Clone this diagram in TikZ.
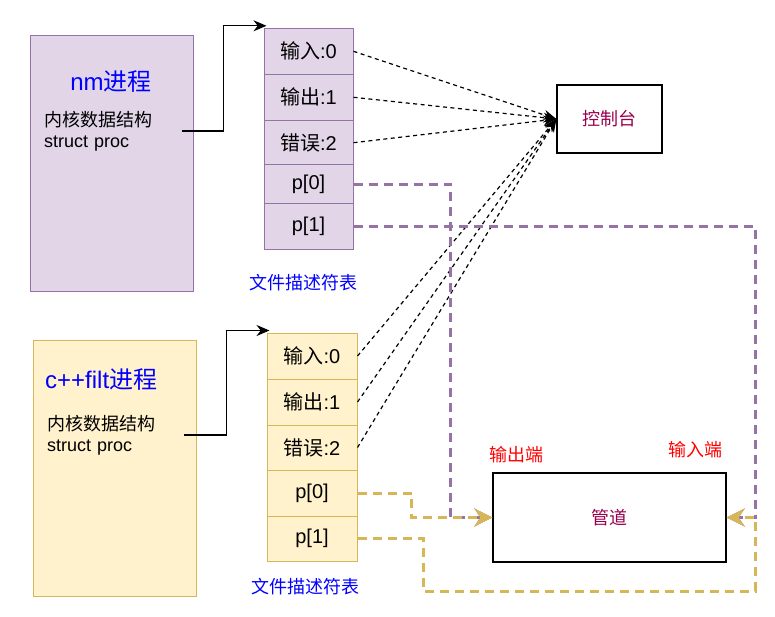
\documentclass[tikz,border=0pt]{standalone}
\usepackage{fontspec}
\setmainfont{Liberation Sans}
\newfontfamily\cjk{Noto Sans CJK SC}
\usetikzlibrary{arrows.meta,positioning}

\definecolor{nmfill}{HTML}{E1D5E7}
\definecolor{nmline}{HTML}{9673A6}
\definecolor{cffill}{HTML}{FFF2CC}
\definecolor{cfline}{HTML}{D6B656}
\definecolor{boxtext}{RGB}{153,0,77}

\tikzset{
  procbox/.style={line width=1pt, minimum width=163pt, minimum height=255pt, inner sep=0pt},
  proctitle/.style={text=blue, font=\fontsize{24}{28}\selectfont, inner sep=0pt},
  proctext/.style={font=\fontsize{18}{21}\selectfont, align=left, text width=138pt, inner sep=0pt},
  fdrow/.style={line width=1pt, inner sep=0pt, font=\fontsize{20}{24}\selectfont},
  nmrow/.style={fdrow, draw=nmline, fill=nmfill, minimum width=89pt},
  cfrow/.style={fdrow, draw=cfline, fill=cffill, minimum width=90pt, minimum height=46pt},
  fdlabel/.style={text=blue, font=\fontsize{18}{21}\selectfont\cjk},
  endlabel/.style={text=red, font=\fontsize{18}{21}\selectfont\cjk},
  plainbox/.style={draw, line width=1.3pt, text=boxtext, font=\fontsize{18}{21}\selectfont\cjk},
  ptr/.style={line width=1.3pt, -{Stealth[length=13pt,width=11pt]}},
  toconsole/.style={line width=1.2pt, dash pattern=on 4pt off 3.5pt, -{Stealth[length=13pt,width=10pt]}},
  pipeline/.style={line width=3pt, dash pattern=on 9pt off 6pt, -{Stealth[length=18pt,width=18pt,inset=6pt]}},
}

\begin{document}
\begin{tikzpicture}[x=1pt,y=-1pt]
  \useasboundingbox (0,0) rectangle (775,617);

  % nm process
  \node[procbox, draw=nmline, fill=nmfill] (nm) at (111.5,163.5) {};
  \node[proctitle] (nmtitle) at (111,82) {nm{\cjk 进程}};
  \node[proctext, anchor=west] (nmtext) at (44,131) {{\cjk 内核数据结构}\\struct proc};

  \node[nmrow, minimum height=46pt] (nm0) at (308.5,51.3) {{\cjk 输入}:0};
  \node[nmrow, minimum height=46pt] (nm1) at (308.5,97.3) {{\cjk 输出}:1};
  \node[nmrow, minimum height=44.7pt] (nm2) at (308.5,142.7) {{\cjk 错误}:2};
  \node[nmrow, minimum height=39pt] (nmp0) at (308.5,184.5) {p[0]};
  \node[nmrow, minimum height=45.5pt] (nmp1) at (308.5,226.7) {p[1]};
  \node[fdlabel] (nmfd) at (303,283) {文件描述符表};

  % c++filt process
  \node[procbox, draw=cfline, fill=cffill, minimum height=256pt] (cf) at (114.5,468) {};
  \node[proctitle, anchor=west] (cftitle) at (45,380) {c++filt{\cjk 进程}};
  \node[proctext, anchor=west, text width=137pt] (cftext) at (47,435) {{\cjk 内核数据结构}\\struct proc};

  \node[cfrow] (cf0) at (312,356) {{\cjk 输入}:0};
  \node[cfrow] (cf1) at (312,402) {{\cjk 输出}:1};
  \node[cfrow, minimum height=45pt] (cf2) at (312,447.5) {{\cjk 错误}:2};
  \node[cfrow] (cfp0) at (312,493) {p[0]};
  \node[cfrow, minimum height=45pt] (cfp1) at (312,538.5) {p[1]};
  \node[fdlabel] (cffd) at (305,587) {文件描述符表};

  % console and pipe
  \node[plainbox, minimum width=105pt, minimum height=68pt] (con) at (609.5,119) {控制台};
  \node[plainbox, minimum width=233pt, minimum height=89pt] (pipe) at (609.5,517.5) {管道};
  \node[endlabel] (outend) at (516,455) {输出端};
  \node[endlabel] (inend) at (695,450) {输入端};

  % process -> fd table
  \coordinate (nmtip) at ([shift={(3,-2)}]nm0.north west);
  \coordinate (cftip) at ([shift={(3,-2)}]cf0.north west);
  \draw[ptr] (nmtext.east) -- ++(41,0) |- (nmtip);
  \draw[ptr] (cftext.east) -- ++(42,0) |- (cftip);

  % std fds -> console
  \foreach \r in {nm0,nm1,nm2,cf0,cf1,cf2}
    \draw[toconsole] (\r.east) -- (con.west);

  % pipe ends
  \coordinate (loop) at (755,591);
  \draw[pipeline, nmline] (nmp0.east) -- ++(97,0) |- (pipe.west);
  \draw[pipeline, nmline] (nmp1.east) -- ++(402,0) |- (pipe.east);
  \draw[pipeline, cfline] (cfp0.east) -- ++(54,0) |- (pipe.west);
  \draw[pipeline, cfline] (cfp1.east) -- ++(66,0) |- (loop) |- (pipe.east);
\end{tikzpicture}
\end{document}
